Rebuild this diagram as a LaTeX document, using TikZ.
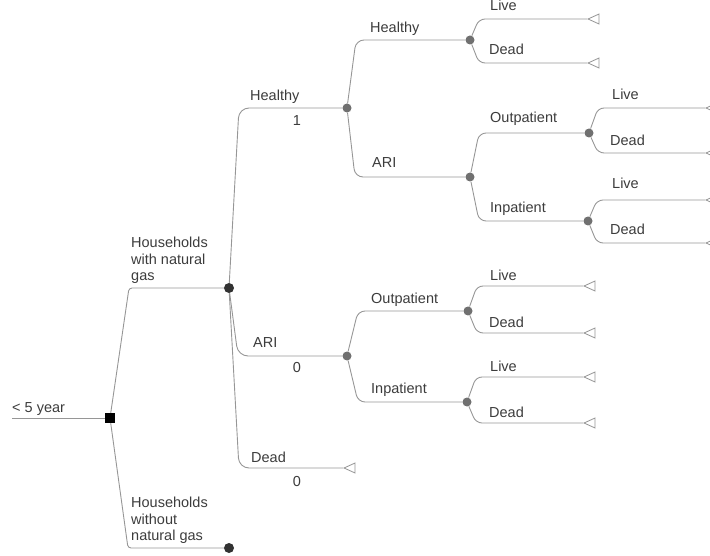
\documentclass[tikz,border=0pt]{standalone}
\usepackage{fontspec}
\setmainfont{Liberation Sans}
\usetikzlibrary{shapes.geometric}
\definecolor{linegray}{RGB}{150,150,150}
\definecolor{nodegray}{RGB}{112,112,112}
\definecolor{darknode}{RGB}{50,50,50}
\definecolor{textgray}{RGB}{60,60,60}
\tikzset{
    decision/.style = {rectangle, fill=black, minimum size=10pt, inner sep=0},
    chance/.style = {circle, fill=nodegray, minimum size=9pt, inner sep=0},
    bigchance/.style = {chance, fill=darknode, minimum size=10pt},
    terminal/.style = {
      isosceles triangle,
      isosceles triangle stretches,
      shape border rotate=180,
      minimum width=10pt,
      minimum height=11pt,
      inner sep=0,
      draw=linegray,
      line width=0.8pt,
      fill=white,
      anchor=apex
    },
    branch/.style = {draw=linegray, line width=0.9pt, rounded corners=#1},
    branch/.default = 7pt,
    fork/.style = {to path={-- ([xshift=#1]\tikztostart |- \tikztotarget) -- (\tikztotarget)}},
    fork/.default = 9pt,
    lbl/.style = {text=textgray, anchor=base west, inner sep=0},
}

\begin{document}
\begin{tikzpicture}[x=1pt, y=-1pt, font=\fontsize{14.5}{16.5}\selectfont]
      \useasboundingbox (0,0) rectangle (710,556);

      % decision and chance nodes
      \coordinate (start) at (12,418);
      \node[decision] (root) at (110,418) {};
      \node[bigchance] (gas) at (229,288) {};
      \node[bigchance] (nogas) at (229,548) {};
      \node[chance] (healthy) at (347,108) {};
      \node[chance] (ari) at (347,356) {};
      \node[chance] (hhealthy) at (470,40) {};
      \node[chance] (hari) at (470,177) {};
      \node[chance] (hout) at (589,133) {};
      \node[chance] (hin) at (588,221) {};
      \node[chance] (aout) at (468,311) {};
      \node[chance] (ain) at (467,402) {};

      % terminal nodes
      \node[terminal] (dead) at (343,468) {};
      \node[terminal] (hhlive) at (587,19) {};
      \node[terminal] (hhdead) at (587,63) {};
      \node[terminal] (holive) at (705,108) {};
      \node[terminal] (hodead) at (705,153) {};
      \node[terminal] (hilive) at (705,200) {};
      \node[terminal] (hidead) at (705,243) {};
      \node[terminal] (aolive) at (583,286) {};
      \node[terminal] (aodead) at (583,333) {};
      \node[terminal] (ailive) at (583,377) {};
      \node[terminal] (aidead) at (583,423) {};

      % connectors
      \draw[branch] (start) -- (root);
      \draw[branch=3pt] (root) to[fork=19pt] (gas);
      \draw[branch=3pt] (root) to[fork=18pt] (nogas);
      \draw[branch=10pt] (gas) to[fork=10pt] (healthy);
      \draw[branch=10pt] (gas) to[fork=9pt] (ari);
      \draw[branch=10pt] (gas) to[fork=10pt] (dead);
      \draw[branch=8pt] (healthy) to[fork] (hhealthy);
      \draw[branch=8pt] (healthy) to[fork=8pt] (hari);
      \draw[branch] (ari) to[fork=11pt] (aout);
      \draw[branch] (ari) to[fork=11pt] (ain);
      \draw[branch] (hari) to[fork] (hout);
      \draw[branch] (hari) to[fork] (hin);
      \foreach \from/\to in {hhealthy/hhlive, hhealthy/hhdead, hout/holive, hout/hodead,
          hin/hilive, hin/hidead, aout/aolive, aout/aodead, ain/ailive, ain/aidead}
        \draw[branch=6pt] (\from) to[fork] (\to);

      % labels
      \node[lbl] (lroot) at (12,412) {< 5 year};
      \node[lbl, align=left, anchor=south west] (lgas) at (131,284) {Households\\with natural\\gas};
      \node[lbl, align=left, anchor=south west] (lnogas) at (131,544) {Households\\without\\natural gas};
      \node[lbl] (lhealthy) at (250,101) {Healthy};
      \node[lbl, anchor=base] (phealthy) at (297,126) {1};
      \node[lbl] (lari) at (253,348) {ARI};
      \node[lbl, anchor=base] (pari) at (297,372) {0};
      \node[lbl] (ldead) at (251,462) {Dead};
      \node[lbl, anchor=base] (pdead) at (297,486) {0};
      \node[lbl] (lhhealthy) at (370,33) {Healthy};
      \node[lbl] (lhari) at (372,168) {ARI};
      \node[lbl] (lhout) at (490,123) {Outpatient};
      \node[lbl] (lhin) at (490,213) {Inpatient};
      \node[lbl] (laout) at (371,304) {Outpatient};
      \node[lbl] (lain) at (371,393) {Inpatient};
      \node[lbl] (lhhlive) at (490,11) {Live};
      \node[lbl] (lhhdead) at (489,55) {Dead};
      \node[lbl] (lholive) at (612,100) {Live};
      \node[lbl] (lhodead) at (610,146) {Dead};
      \node[lbl] (lhilive) at (612,189) {Live};
      \node[lbl] (lhidead) at (610,235) {Dead};
      \node[lbl] (laolive) at (490,281) {Live};
      \node[lbl] (laodead) at (489,327) {Dead};
      \node[lbl] (lailive) at (490,371) {Live};
      \node[lbl] (laidead) at (489,417) {Dead};
\end{tikzpicture}
\end{document}
